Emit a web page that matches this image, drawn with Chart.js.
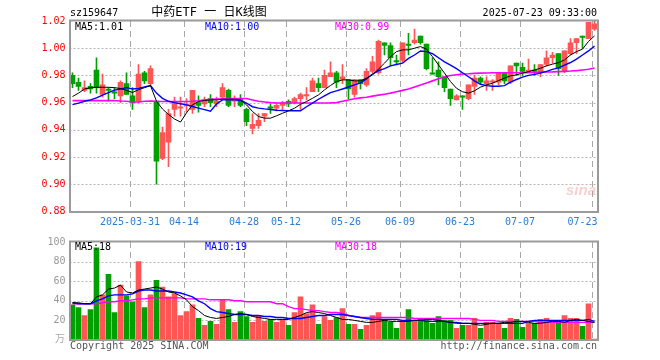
<!DOCTYPE html>
<html>
<head>
<meta charset="utf-8">
<script src="https://cdn.jsdelivr.net/npm/chart.js@4"></script>
<style>
  body { margin: 0; background: #fff; }
  #wrap { position: relative; width: 660px; height: 360px; }
  canvas { position: absolute; left: 0; }
  #kline { top: 0; }
  #volume { top: 232px; }
</style>
</head>
<body>
<div id="wrap">
  <canvas id="kline" width="660" height="232"></canvas>
  <canvas id="volume" width="660" height="128"></canvas>
</div>
<script>
// trading days, 2025
const dates = ['03-17','03-18','03-19','03-20','03-21','03-24','03-25','03-26','03-27','03-28',
  '03-31','04-01','04-02','04-03','04-07','04-08','04-09','04-10','04-11','04-14',
  '04-15','04-16','04-17','04-18','04-21','04-22','04-23','04-24','04-25','04-28',
  '04-29','04-30','05-06','05-07','05-08','05-09','05-12','05-13','05-14','05-15',
  '05-16','05-19','05-20','05-21','05-22','05-23','05-26','05-27','05-28','05-29',
  '05-30','06-03','06-04','06-05','06-06','06-09','06-10','06-11','06-12','06-13',
  '06-16','06-17','06-18','06-19','06-20','06-23','06-24','06-25','06-26','06-27',
  '06-30','07-01','07-02','07-03','07-04','07-07','07-08','07-09','07-10','07-11',
  '07-14','07-15','07-16','07-17','07-18','07-21','07-22','07-23'];

const tickDates = ['03-31','04-14','04-28','05-12','05-26','06-09','06-23','07-07','07-23'];
const tickLabels = ['2025-03-31','04-14','04-28','05-12','05-26','06-09','06-23','07-07','07-23'];

const opens = [.980,.975,.969,.972,.984,.966,.970,.968,.965,.974,
  .965,.961,.982,.974,.961,.919,.931,.955,.956,.958,
  .955,.960,.959,.963,.959,.964,.969,.961,.963,.955,
  .941,.943,.950,.957,.956,.958,.961,.960,.963,.965,
  .968,.974,.971,.979,.982,.977,.977,.966,.977,.973,
  .983,.982,1.004,1.002,.991,.991,1.003,1.004,1.009,1.003,
  .982,.984,.979,.970,.962,.965,.963,.972,.978,.974,
  .975,.975,.982,.975,.989,.986,.983,.984,.982,.988,
  .993,.996,.983,.996,1.004,1.009,1.007,1.014];
const highs = [.982,.978,.976,.974,.993,.981,.971,.971,.976,.982,
  .971,.988,.983,.987,.961,.942,.955,.964,.964,.963,
  .969,.965,.964,.966,.964,.974,.970,.965,.966,.956,
  .952,.952,.952,.959,.960,.961,.962,.964,.967,.971,
  .978,.978,.984,.990,.983,.988,.977,.977,.977,.985,
  .994,1.006,1.004,1.004,.995,1.004,1.011,1.014,1.009,1.003,
  .993,.990,.979,.970,.966,.965,.973,.980,.979,.979,
  .977,.982,.982,.987,.989,.989,.992,.988,.988,.998,
  .997,.996,.998,1.007,1.007,1.009,1.019,1.020];
const lows = [.971,.969,.968,.967,.967,.964,.961,.963,.960,.966,
  .955,.960,.974,.973,.900,.918,.913,.950,.950,.953,
  .952,.953,.957,.957,.957,.963,.957,.957,.957,.943,
  .937,.941,.946,.952,.954,.955,.957,.959,.955,.962,
  .968,.968,.971,.979,.971,.974,.963,.964,.970,.972,
  .982,.981,.995,.987,.988,.990,.995,1.003,1.003,.984,
  .981,.973,.968,.958,.962,.955,.962,.966,.974,.969,
  .969,.973,.974,.974,.980,.980,.982,.980,.979,.987,
  .989,.980,.982,.995,.996,1.000,1.007,1.013];
const closes = [.974,.972,.971,.970,.971,.973,.969,.967,.975,.966,
  .960,.981,.976,.985,.917,.938,.952,.960,.957,.959,
  .969,.958,.962,.960,.961,.971,.958,.963,.958,.946,
  .944,.947,.952,.956,.958,.960,.959,.963,.966,.966,
  .976,.971,.980,.982,.975,.979,.970,.977,.974,.983,
  .990,1.005,1.002,.993,.990,1.004,1.002,1.006,1.004,.985,
  .981,.979,.971,.963,.965,.964,.973,.978,.975,.976,
  .976,.982,.976,.987,.987,.983,.984,.983,.988,.993,
  .995,.985,.998,1.004,1.007,1.008,1.019,1.018];

const ma5 = [.9645,.967,.970,.971,.9713,.9713,.9713,.971,.9704,.969,
  .9675,.9695,.971,.9725,.961,.9553,.9513,.948,.9457,.9525,
  .9584,.9608,.9616,.962,.962,.9625,.9625,.9625,.962,.9584,
  .9535,.9498,.9486,.9486,.9503,.9522,.954,.9559,.9588,.9608,
  .9632,.9657,.9694,.9726,.9755,.9767,.9767,.976,.976,.978,
  .9804,.9846,.989,.9938,.9975,.9988,.9988,1.000,1.0012,.9993,
  .9938,.9877,.9817,.9755,.9706,.968,.967,.9687,.9714,.973,
  .9743,.9762,.978,.9797,.9804,.9817,.9828,.984,.9853,.987,
  .9883,.9894,.9914,.995,.9975,.9993,1.005,1.009];
const ma10 = [.9585,.9596,.961,.962,.9635,.9655,.9674,.9692,.970,.971,
  .970,.9705,.9716,.9726,.967,.9632,.961,.960,.9592,.9584,
  .9572,.956,.9549,.9537,.959,.962,.962,.962,.9616,.9596,
  .957,.956,.9554,.955,.9544,.9542,.954,.954,.954,.957,
  .9596,.9625,.965,.9674,.9686,.970,.9715,.973,.9745,.9775,
  .981,.9835,.985,.987,.988,.989,.9925,.995,.998,.9975,
  .996,.993,.990,.9875,.985,.982,.979,.976,.9735,.9725,
  .972,.972,.9725,.975,.977,.9788,.980,.9808,.9818,.983,
  .9845,.9855,.9875,.9895,.992,.995,.998,1.0015];
const ma30 = [.9615,.9615,.9615,.9615,.9615,.9615,.9615,.9615,.9612,.961,
  .9605,.9605,.961,.9612,.961,.9608,.9608,.9608,.9608,.9608,
  .961,.9614,.962,.9624,.9626,.9628,.9628,.963,.963,.963,
  .962,.961,.9605,.960,.9597,.9597,.9597,.9597,.9597,.9597,
  .9597,.9597,.9597,.9598,.960,.961,.962,.9628,.9635,.964,
  .9648,.9655,.9662,.967,.968,.969,.970,.9715,.973,.9745,
  .976,.9775,.979,.980,.9805,.981,.9812,.9815,.9817,.9818,
  .982,.982,.982,.982,.982,.982,.982,.9822,.9824,.9825,
  .9826,.9828,.983,.9832,.9835,.984,.9845,.9855];

// volume, 万
const volumes = [36,33,25,31,94,46,67,28,56,45,
  39,80,33,46,61,54,44,47,25,29,
  36,22,15,19,16,41,31,18,29,24,
  18,25,19,21,18,21,15,28,44,27,
  36,16,24,20,23,32,16,16,11,15,
  25,28,20,18,12,20,31,20,21,21,
  17,24,20,20,12,15,15,22,12,18,
  18,16,12,22,21,13,17,17,21,22,
  20,19,25,22,22,14,37,1];
const volMa5 = [38,38,37,37,44,46,52,53,56,49,
  48,51,52,53,54,52,49,48,45,41,
  34,30,25,23,22,23,24,26,27,26,
  24,23,22,21,21,21,21,23,25,28,
  29,28,27,25,23,21,21,20,19,18,
  18,19,20,19,19,19,19,20,20,21,
  21,20,19,18,17,17,17,16,15,16,
  17,17,18,18,19,19,18,17,17,18,
  19,19,18,20,21,20,19,18];
const volMa10 = [38,37,37,37,40,42,45,46,46,46,
  47,50,51,51,50,50,50,49,48,46,
  44,40,37,32,29,28,27,26,26,26,
  25,25,24,24,23,23,22,22,22,23,
  24,25,25,26,26,26,25,24,23,22,
  21,21,21,21,21,20,20,20,20,19,
  19,19,19,18,18,17,17,17,17,17,
  17,17,17,17,17,17,19,20,20,20,
  20,20,20,20,20,20,21,19];
const volMa30 = [37,37,37,37,37,38,39,39,40,40,
  41,42,42,43,43,43,43,43,43,42,
  42,42,42,41,41,41,41,40,40,39,
  39,39,39,39,37,37,34,32,32,31,
  30,30,29,28,28,27,25,24,23,23,
  23,23,23,23,23,23,23,22,22,22,
  22,22,22,22,22,22,22,21,20,20,
  20,19,19,19,19,19,19,19,18,18,
  18,18,18,18,18,18,18,18];

const MONO = '"DejaVu Sans Mono", monospace';
const UP = '#ff5555';
const DOWN = '#00a000';
const candleColors = closes.map((c, i) => (c >= opens[i] ? UP : DOWN));

function cellEdge(xs, k) {
  const w = xs.getPixelForValue(1) - xs.getPixelForValue(0);
  return xs.getPixelForValue(k) - w / 2;
}

function drawGrid(chart, yValues) {
  const { ctx, chartArea: a, scales: { x, y } } = chart;
  ctx.save();
  ctx.lineWidth = 1;
  ctx.strokeStyle = '#b4b4b4';
  ctx.setLineDash([2, 2]);
  yValues.forEach(v => {
    const py = Math.round(y.getPixelForValue(v)) + 0.5;
    ctx.beginPath(); ctx.moveTo(a.left, py); ctx.lineTo(a.right, py); ctx.stroke();
  });
  ctx.setLineDash([6, 4]);
  ctx.strokeStyle = '#a8a8a8';
  tickDates.forEach(d => {
    const px = Math.round(cellEdge(x, dates.indexOf(d))) + 0.5;
    ctx.beginPath(); ctx.moveTo(px, a.top); ctx.lineTo(px, a.bottom); ctx.stroke();
  });
  ctx.restore();
}

function drawFrame(chart) {
  const { ctx, chartArea: a } = chart;
  ctx.save();
  ctx.strokeStyle = '#9a9a9a';
  ctx.lineWidth = 2;
  ctx.strokeRect(Math.round(a.left), Math.round(a.top) - 0.5, Math.round(a.right - a.left), Math.round(a.bottom - a.top) + 0.5);
  ctx.restore();
}

function text(ctx, str, x, y, color, align, font) {
  ctx.fillStyle = color;
  ctx.textAlign = align;
  ctx.textBaseline = 'middle';
  ctx.font = font || '10px ' + MONO;
  ctx.fillText(str, x, y);
}

const klineDecor = {
  id: 'klineDecor',
  beforeDatasetsDraw(chart) {
    drawGrid(chart, [0.90, 0.92, 0.94, 0.96, 0.98, 1.00]);
  },
  afterDraw(chart) {
    const { ctx, chartArea: a, scales: { x } } = chart;
    drawFrame(chart);
    ctx.save();
    text(ctx, 'sz159647', 70, 13, '#000', 'left');
    text(ctx, '中药ETF 一 日K线图', 209, 13, '#000', 'center', '12px ' + MONO + ', "Noto Sans CJK SC"');
    text(ctx, '2025-07-23 09:33:00', 597, 13, '#000', 'right');
    text(ctx, 'MA5:' + ma5[ma5.length - 1].toFixed(2), 75, 27, '#000', 'left');
    text(ctx, 'MA10:' + ma10[ma10.length - 1].toFixed(2), 205, 27, '#0000ff', 'left');
    text(ctx, 'MA30:' + ma30[ma30.length - 1].toFixed(2), 335, 27, '#ff00ff', 'left');
    ctx.font = '10px ' + MONO;
    tickDates.forEach((d, i) => {
      const lbl = tickLabels[i];
      const w = ctx.measureText(lbl).width;
      let cx = Math.round(cellEdge(x, dates.indexOf(d)));
      if (cx + w / 2 > a.right) cx = a.right - w / 2;
      text(ctx, lbl, cx, 222, '#2a7fd4', 'center');
    });
    text(ctx, 'sina', 581, 191, 'rgba(236,120,120,0.35)', 'center', 'italic bold 15px "Liberation Sans", sans-serif');
    ctx.restore();
  }
};

const volumeDecor = {
  id: 'volumeDecor',
  beforeDatasetsDraw(chart) {
    drawGrid(chart, [20, 40, 60, 80]);
  },
  afterDraw(chart) {
    const { ctx } = chart;
    drawFrame(chart);
    ctx.save();
    text(ctx, 'MA5:' + Math.round(volMa5[volMa5.length - 1]), 75, 15, '#000', 'left');
    text(ctx, 'MA10:' + Math.round(volMa10[volMa10.length - 1]), 205, 15, '#0000ff', 'left');
    text(ctx, 'MA30:' + Math.round(volMa30[volMa30.length - 1]), 335, 15, '#ff00ff', 'left');
    text(ctx, '万', 65, 106, '#aaa', 'right', '10px "Noto Sans CJK SC"');
    text(ctx, 'Copyright 2025 SINA.COM', 70, 114, '#555', 'left');
    text(ctx, 'http://finance.sina.com.cn', 597, 114, '#555', 'right');
    ctx.restore();
  }
};

function lineSet(data, color, width) {
  return { type: 'line', data, borderColor: color, borderWidth: width, pointRadius: 0, tension: 0, order: 0 };
}

function baseScales(yOpts) {
  return {
    x: {
      grid: { display: false, drawTicks: false },
      border: { display: false },
      ticks: { display: false },
      afterFit(s) { s.height = 0; }
    },
    y: Object.assign({
      grid: { display: false, drawTicks: false },
      border: { display: false },
      afterFit(s) { s.width = 69.5; }
    }, yOpts)
  };
}

new Chart(document.getElementById('kline'), {
  type: 'bar',
  data: {
    labels: dates,
    datasets: [
      lineSet(ma5, '#000000', 1),
      lineSet(ma10, '#0000ff', 1.4),
      lineSet(ma30, '#ff00ff', 1.6),
      { data: opens.map((o, i) => [o, closes[i]]), backgroundColor: candleColors, barThickness: 5, minBarLength: 1, grouped: false, order: 1 },
      { data: lows.map((l, i) => [l, highs[i]]), backgroundColor: candleColors, barThickness: 1, grouped: false, order: 2 }
    ]
  },
  options: {
    responsive: false,
    animation: false,
    devicePixelRatio: 1,
    layout: { padding: { top: 21, bottom: 20.5, left: 0, right: 62.5 } },
    plugins: { legend: { display: false }, tooltip: { enabled: false } },
    scales: baseScales({
      min: 0.88,
      max: 1.02,
      ticks: { stepSize: 0.02, color: '#ff0000', padding: 4, font: { family: MONO, size: 10 }, callback: v => v.toFixed(2) }
    })
  },
  plugins: [klineDecor]
});

new Chart(document.getElementById('volume'), {
  type: 'bar',
  data: {
    labels: dates,
    datasets: [
      lineSet(volMa5, '#000000', 1),
      lineSet(volMa10, '#0000ff', 1.4),
      lineSet(volMa30, '#ff00ff', 1.4),
      { data: volumes, backgroundColor: candleColors, barThickness: 5, grouped: false, order: 1 }
    ]
  },
  options: {
    responsive: false,
    animation: false,
    devicePixelRatio: 1,
    layout: { padding: { top: 8, bottom: 20, left: 0, right: 62.5 } },
    plugins: { legend: { display: false }, tooltip: { enabled: false } },
    scales: baseScales({
      min: 0,
      max: 100,
      ticks: { stepSize: 20, color: '#999', padding: 4, font: { family: MONO, size: 10 }, callback: v => (v === 0 ? '' : v) }
    })
  },
  plugins: [volumeDecor]
});
</script>
</body>
</html>
